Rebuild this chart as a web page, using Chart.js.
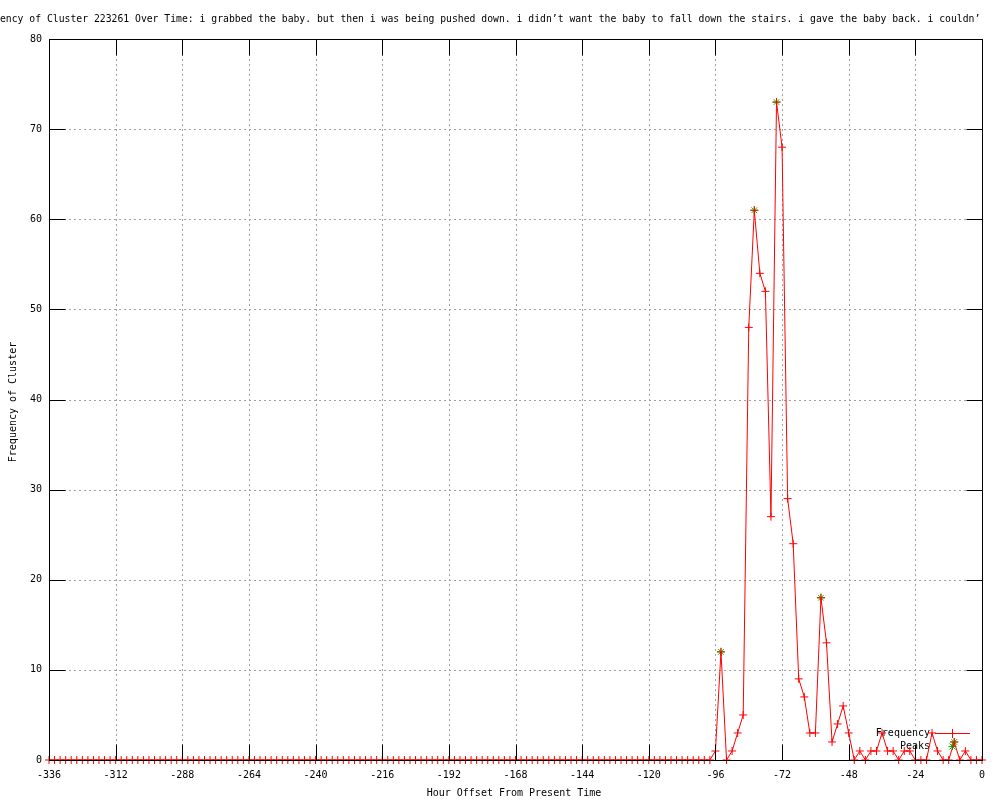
<!DOCTYPE html>
<html><head><meta charset="utf-8">
<script src="https://cdn.jsdelivr.net/npm/chart.js"></script>
<style>html,body{margin:0;padding:0;background:#fff}canvas{display:block}</style>
</head><body>
<canvas id="c" width="1000" height="800"></canvas>
<script>
const titleText = "ency of Cluster 223261 Over Time: i grabbed the baby. but then i was being pushed down. i didn’t want the baby to fall down the stairs. i gave the baby back. i couldn’";
const xAxisTitle = "Hour Offset From Present Time";
const yAxisTitle = "Frequency of Cluster";
const legendLabels = ["Frequency", "Peaks"];

const hours = [
-336,-334,-332,-330,-328,-326,-324,-322,-320,-318,
-316,-314,-312,-310,-308,-306,-304,-302,-300,-298,
-296,-294,-292,-290,-288,-286,-284,-282,-280,-278,
-276,-274,-272,-270,-268,-266,-264,-262,-260,-258,
-256,-254,-252,-250,-248,-246,-244,-242,-240,-238,
-236,-234,-232,-230,-228,-226,-224,-222,-220,-218,
-216,-214,-212,-210,-208,-206,-204,-202,-200,-198,
-196,-194,-192,-190,-188,-186,-184,-182,-180,-178,
-176,-174,-172,-170,-168,-166,-164,-162,-160,-158,
-156,-154,-152,-150,-148,-146,-144,-142,-140,-138,
-136,-134,-132,-130,-128,-126,-124,-122,-120,-118,
-116,-114,-112,-110,-108,-106,-104,-102,-100,-98,
-96,-94,-92,-90,-88,-86,-84,-82,-80,-78,
-76,-74,-72,-70,-68,-66,-64,-62,-60,-58,
-56,-54,-52,-50,-48,-46,-44,-42,-40,-38,
-36,-34,-32,-30,-28,-26,-24,-22,-20,-18,
-16,-14,-12,-10,-8,-6,-4,-2,0];

const frequency = [
0,0,0,0,0,0,0,0,0,0,
0,0,0,0,0,0,0,0,0,0,
0,0,0,0,0,0,0,0,0,0,
0,0,0,0,0,0,0,0,0,0,
0,0,0,0,0,0,0,0,0,0,
0,0,0,0,0,0,0,0,0,0,
0,0,0,0,0,0,0,0,0,0,
0,0,0,0,0,0,0,0,0,0,
0,0,0,0,0,0,0,0,0,0,
0,0,0,0,0,0,0,0,0,0,
0,0,0,0,0,0,0,0,0,0,
0,0,0,0,0,0,0,0,0,0,
1,12,0,1,3,5,48,61,54,52,
27,73,68,29,24,9,7,3,3,18,
13,2,4,6,3,0,1,0,1,1,
3,1,1,0,1,1,0,0,0,3,
1,0,0,2,0,1,0,0,0];

const peakHours = [-94,-82,-74,-58,-10];
const peakValues = [12,61,73,18,2];

const xTickValues = [-336,-312,-288,-264,-240,-216,-192,-168,-144,-120,-96,-72,-48,-24,0];
const xTickLabels = ["-336","-312","-288","-264","-240","-216","-192","-168","-144","-120","-96","-72","-48","-24","0"];
const yTickValues = [0,10,20,30,40,50,60,70,80];
const yTickLabels = ["0","10","20","30","40","50","60","70","80"];

const FAM = '"DejaVu Sans Mono", "Liberation Mono", monospace';
const RED = '#ff0000', GREEN = '#00c000', GRID = '#a0a0a0';

function seg(ctx, x1, y1, x2, y2){ ctx.beginPath(); ctx.moveTo(x1,y1); ctx.lineTo(x2,y2); ctx.stroke(); }

const deco = {
  id: 'deco',
  beforeDatasetsDraw(chart){
    const {ctx, chartArea:a, scales:{x, y}} = chart;
    ctx.save();
    ctx.lineWidth = 1; ctx.strokeStyle = GRID; ctx.setLineDash([2,3]);
    xTickValues.forEach(v => {
      if (v === xTickValues[0] || v === xTickValues[xTickValues.length-1]) return;
      const px = Math.round(x.getPixelForValue(v)) + 0.5;
      seg(ctx, px, a.top, px, a.bottom);
    });
    yTickValues.forEach(v => {
      if (v === yTickValues[0] || v === yTickValues[yTickValues.length-1]) return;
      const py = Math.round(y.getPixelForValue(v)) + 0.5;
      seg(ctx, a.left, py, a.right, py);
    });
    ctx.setLineDash([]);
    // legend (key)
    ctx.fillStyle = '#fff';
    ctx.fillRect(872, 726, 104, 26);
    ctx.fillStyle = '#000';
    ctx.font = '10px ' + FAM;
    ctx.textAlign = 'right'; ctx.textBaseline = 'middle';
    ctx.fillText(legendLabels[0], 930, 733);
    ctx.fillText(legendLabels[1], 930, 746);
    ctx.strokeStyle = RED;
    seg(ctx, 935, 733.5, 970, 733.5);
    seg(ctx, 948, 733.5, 956, 733.5);
    seg(ctx, 952.5, 729, 952.5, 738);
    ctx.strokeStyle = GREEN;
    seg(ctx, 952.5, 742, 952.5, 750);
    seg(ctx, 948.5, 746.5, 956.5, 746.5);
    seg(ctx, 949.5, 743.5, 955.5, 749.5);
    seg(ctx, 949.5, 749.5, 955.5, 743.5);
    ctx.restore();
  },
  afterDatasetsDraw(chart){
    const {ctx, chartArea:a, scales:{x, y}} = chart;
    ctx.save();
    ctx.lineWidth = 1; ctx.strokeStyle = '#000';
    const L = Math.round(a.left)+0.5, R = Math.round(a.right)+0.5, T = Math.round(a.top)+0.5, B = Math.round(a.bottom)+0.5;
    ctx.strokeRect(L, T, R-L, B-T);
    xTickValues.forEach(v => {
      const px = Math.round(x.getPixelForValue(v)) + 0.5;
      seg(ctx, px, B, px, B-16);
      seg(ctx, px, T, px, T+16);
    });
    yTickValues.forEach(v => {
      const py = Math.round(y.getPixelForValue(v)) + 0.5;
      seg(ctx, L, py, L+16, py);
      seg(ctx, R, py, R-16, py);
    });
    // titles
    ctx.fillStyle = '#000';
    ctx.font = '9.75px ' + FAM;
    ctx.textAlign = 'left'; ctx.textBaseline = 'middle';
    ctx.fillText(titleText, 0, 19);
    ctx.font = '10px ' + FAM;
    ctx.textAlign = 'center';
    ctx.fillText(xAxisTitle, 514, 793);
    ctx.translate(13, 402);
    ctx.rotate(-Math.PI/2);
    ctx.fillText(yAxisTitle, 0, 0);
    ctx.restore();
  }
};

new Chart(document.getElementById('c'), {
  type: 'line',
  data: {
    datasets: [
      {
        label: legendLabels[0],
        data: hours.map((h, i) => ({x: h, y: frequency[i]})),
        borderColor: RED, backgroundColor: RED, borderWidth: 1,
        pointStyle: 'cross', pointRadius: 4, pointHoverRadius: 4,
        pointBorderWidth: 1, pointBorderColor: RED,
        tension: 0, fill: false, clip: false, order: 0
      },
      {
        label: legendLabels[1],
        data: peakHours.map((h, i) => ({x: h, y: peakValues[i]})),
        showLine: false, borderColor: GREEN, backgroundColor: GREEN,
        pointStyle: 'star', pointRadius: 4, pointHoverRadius: 4,
        pointBorderWidth: 1, pointBorderColor: GREEN,
        clip: false, order: 1
      }
    ]
  },
  options: {
    responsive: false, animation: false, devicePixelRatio: 1, events: [],
    layout: {padding: {left: 0, right: 18, top: 39, bottom: 0}},
    plugins: {legend: {display: false}, title: {display: false}, tooltip: {enabled: false}},
    scales: {
      x: {
        type: 'linear', min: xTickValues[0], max: xTickValues[xTickValues.length-1],
        afterBuildTicks: s => { s.ticks = xTickValues.map(v => ({value: v})); },
        afterFit: s => { s.height = 40; },
        grid: {display: false, drawTicks: false}, border: {display: false},
        ticks: {padding: 9, color: '#000', font: {family: FAM, size: 10}, maxRotation: 0, autoSkip: false,
          callback: v => xTickLabels[xTickValues.indexOf(v)]}
      },
      y: {
        type: 'linear', min: yTickValues[0], max: yTickValues[yTickValues.length-1],
        afterBuildTicks: s => { s.ticks = yTickValues.map(v => ({value: v})); },
        afterFit: s => { s.width = 49; },
        grid: {display: false, drawTicks: false}, border: {display: false},
        ticks: {padding: 7, color: '#000', font: {family: FAM, size: 10}, autoSkip: false,
          callback: v => yTickLabels[yTickValues.indexOf(v)]}
      }
    }
  },
  plugins: [deco]
});
</script>
</body></html>
